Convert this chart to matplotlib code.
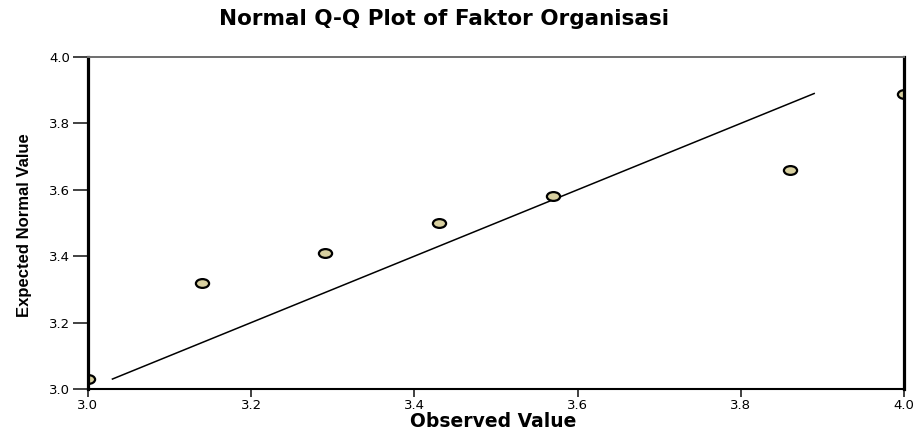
import numpy as np
import matplotlib
matplotlib.use("Agg")
import matplotlib.pyplot as plt
from matplotlib.path import Path
from matplotlib.transforms import Affine2D

# observed values and expected normal values
observed = [3.00, 3.14, 3.29, 3.43, 3.57, 3.86, 4.00]
expected = [3.03, 3.32, 3.41, 3.50, 3.58, 3.66, 3.89]
line_x = [3.03, 3.89]
ticks = [3.0, 3.2, 3.4, 3.6, 3.8, 4.0]
tick_labels = ["3.0", "3.2", "3.4", "3.6", "3.8", "4.0"]

plt.rcParams["font.family"] = ["DejaVu Sans"]

fig = plt.figure(figsize=(9.22, 4.34), dpi=100)
ax = fig.add_axes([0.0954, 0.1037, 0.885, 0.765])

# wide ellipse marker
ell = Path.unit_circle().transformed(Affine2D().scale(1.5, 1.0))

ax.plot(line_x, line_x, color="black", lw=1.1, zorder=2)
ax.plot(observed, expected, ls="none", marker=ell, markersize=9.5,
        markerfacecolor="#d8d0a0", markeredgecolor="black",
        markeredgewidth=1.6, zorder=3)

ax.set_xlim(3.0, 4.0)
ax.set_ylim(3.0, 4.0)
ax.set_xticks(ticks)
ax.set_yticks(ticks)
ax.set_xticklabels(tick_labels)
ax.set_yticklabels(tick_labels)
ax.tick_params(axis="both", direction="out", labelsize=9.5, width=1.3,
               color="#333333", pad=2)
ax.tick_params(axis="y", length=11)
ax.tick_params(axis="x", length=5.5)

for side in ["left", "right"]:
    ax.spines[side].set_linewidth(2.3)
    ax.spines[side].set_color("black")
ax.spines["bottom"].set_linewidth(1.5)
ax.spines["bottom"].set_color("black")
ax.spines["top"].set_linewidth(1.4)
ax.spines["top"].set_color("#6e6e6e")
for s in ax.spines.values():
    s.set_zorder(4)

ax.set_xlabel("Observed Value", fontsize=13.5, fontweight="bold")
ax.xaxis.set_label_coords(0.497, -0.068)
ax.set_ylabel("Expected Normal Value", fontsize=12, fontweight="bold",
              family=["Liberation Sans"])
ax.yaxis.set_label_coords(-0.068, 0.493)
fig.text(0.482, 0.956, "Normal Q-Q Plot of Faktor Organisasi", ha="center",
         va="center", fontsize=15.5, fontweight="bold")

fig.savefig("out.png", dpi=100)
